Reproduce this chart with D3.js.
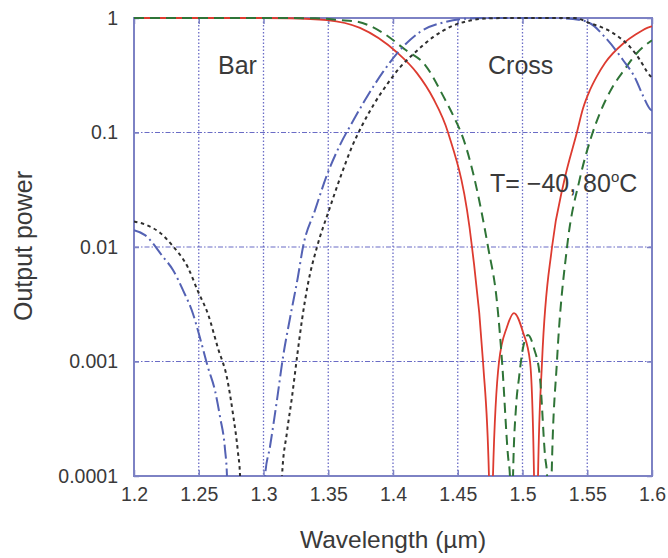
<!DOCTYPE html>
<html>
<head>
<meta charset="utf-8">
<script src="https://cdn.jsdelivr.net/npm/d3@7"></script>
<style>
  body { margin: 0; background: #fff; }
  svg { display: block; }
  text { font-family: "Liberation Sans", Arial, Helvetica, sans-serif; fill: #3a3a3a; }
</style>
</head>
<body>
<svg id="chart" width="668" height="558"></svg>
<script>
// wavelength (um), output power
const crossA = [
  [1.20, 1.0], [1.30, 1.0], [1.32, 0.995], [1.349, 0.96], [1.3745, 0.82], [1.4031, 0.5],
  [1.4185, 0.33], [1.4309, 0.2], [1.4425, 0.1], [1.461, 0.01], [1.4695, 0.001],
  [1.4741, 0.0001], [1.4757, 1e-6], [1.4772, 0.0001], [1.4819, 0.001], [1.488, 0.002],
  [1.4934, 0.00265], [1.5004, 0.0018], [1.5058, 0.001], [1.5089, 0.0001], [1.5104, 1e-6],
  [1.512, 0.0001], [1.5151, 0.001], [1.5228, 0.01], [1.532, 0.037], [1.542, 0.1],
  [1.5467, 0.162], [1.5521, 0.235], [1.5575, 0.311], [1.5637, 0.405], [1.5776, 0.596],
  [1.5876, 0.72], [1.5985, 0.838], [1.60, 0.845]
];
const crossB = [
  [1.20, 1.0], [1.30, 1.0], [1.34, 0.995], [1.359, 0.96], [1.3722, 0.93], [1.3923, 0.74],
  [1.4093, 0.53], [1.4247, 0.39], [1.4386, 0.21], [1.4494, 0.12], [1.4525, 0.1],
  [1.4734, 0.01], [1.4803, 0.0033], [1.4842, 0.001], [1.4888, 0.00015], [1.4903, 0.0001],
  [1.4911, 1e-6], [1.4927, 0.0001], [1.495, 0.0004], [1.4973, 0.00072], [1.5003, 0.0013],
  [1.5042, 0.0017], [1.5089, 0.0013], [1.5135, 0.00072], [1.5174, 0.00015], [1.519, 0.0001],
  [1.5205, 1e-6], [1.5225, 0.0001], [1.5266, 0.001], [1.5344, 0.01], [1.5444, 0.04],
  [1.5529, 0.09], [1.5598, 0.148], [1.5691, 0.245], [1.5784, 0.35], [1.5884, 0.495], [1.60, 0.64]
];
const barA = [
  [1.20, 0.014], [1.2085, 0.0127], [1.2224, 0.0082], [1.2301, 0.0063], [1.2378, 0.0042],
  [1.2456, 0.0026], [1.251, 0.0016], [1.2571, 0.00089], [1.2625, 0.00056], [1.2664, 0.00033],
  [1.2703, 0.00017], [1.2718, 0.0001], [1.2734, 1e-6], [1.2995, 1e-6], [1.3012, 0.0001],
  [1.305, 0.00018], [1.3104, 0.00046], [1.3151, 0.0011], [1.3205, 0.0024], [1.3266, 0.0055],
  [1.3305, 0.01], [1.3398, 0.021], [1.349, 0.0425], [1.3591, 0.078], [1.3691, 0.126],
  [1.3784, 0.192], [1.3923, 0.338], [1.4054, 0.525], [1.4208, 0.755], [1.4402, 0.923],
  [1.4595, 0.99], [1.48, 1.0], [1.52, 1.0], [1.539, 0.98], [1.5521, 0.9], [1.5637, 0.68],
  [1.5776, 0.43], [1.5869, 0.30], [1.593, 0.21], [1.5985, 0.16], [1.60, 0.155]
];
const barB = [
  [1.20, 0.0167], [1.21, 0.0155], [1.2201, 0.0133], [1.2293, 0.0104], [1.2417, 0.0066],
  [1.2494, 0.0041], [1.2571, 0.0026], [1.2649, 0.0013], [1.2718, 0.00072], [1.2764, 0.00035],
  [1.2803, 0.00016], [1.2819, 0.0001], [1.283, 1e-6], [1.3131, 1e-6], [1.3143, 0.0001],
  [1.3181, 0.00024], [1.322, 0.00049], [1.3259, 0.0011], [1.3297, 0.0023], [1.3344, 0.0048],
  [1.3413, 0.01], [1.3506, 0.021], [1.3598, 0.042], [1.3683, 0.075], [1.3761, 0.115],
  [1.3853, 0.177], [1.3961, 0.27], [1.4054, 0.37], [1.417, 0.5], [1.4309, 0.68],
  [1.4456, 0.85], [1.4595, 0.95], [1.471, 0.99], [1.49, 1.0], [1.54, 1.0], [1.5521, 0.9],
  [1.5653, 0.79], [1.5753, 0.67], [1.583, 0.56], [1.5907, 0.43], [1.5961, 0.34], [1.60, 0.30]
];

const xTicks = [1.2, 1.25, 1.3, 1.35, 1.4, 1.45, 1.5, 1.55, 1.6];
const xTickLabels = ["1.2", "1.25", "1.3", "1.35", "1.4", "1.45", "1.5", "1.55", "1.6"];
const yTicks = [1, 0.1, 0.01, 0.001, 0.0001];
const yTickLabels = ["1", "0.1", "0.01", "0.001", "0.0001"];

var svg = d3.select("#chart");
var plotL = 134, plotR = 652, plotT = 18, plotB = 476;

var x = d3.scaleLinear().domain([1.2, 1.6]).range([plotL, plotR]);
var y = d3.scaleLog().domain([0.0001, 1]).range([plotB, plotT]);

var gridColor = "#6a6cc6";
var frameColor = "#7d82c4";

// grid
svg.append("g")
  .selectAll("line")
  .data(xTicks.slice(1, -1))
  .enter()
  .append("line")
  .attr("x1", d => x(d)).attr("x2", d => x(d))
  .attr("y1", plotT).attr("y2", plotB)
  .attr("stroke", gridColor)
  .attr("stroke-width", 1.3)
  .attr("stroke-dasharray", "1.5,2");

svg.append("g")
  .selectAll("line")
  .data(yTicks.slice(1, -1))
  .enter()
  .append("line")
  .attr("x1", plotL).attr("x2", plotR)
  .attr("y1", d => y(d)).attr("y2", d => y(d))
  .attr("stroke", gridColor)
  .attr("stroke-width", 1.2)
  .attr("stroke-dasharray", "5,2,1.5,2");

// axes
var xAxis = svg.append("g")
  .attr("transform", "translate(0," + plotB + ")")
  .call(d3.axisBottom(x).tickValues(xTicks)
    .tickFormat((d, i) => xTickLabels[i])
    .tickSizeInner(-6).tickSizeOuter(0).tickPadding(11));
var yAxis = svg.append("g")
  .attr("transform", "translate(" + plotL + ",0)")
  .call(d3.axisLeft(y).tickValues(yTicks)
    .tickFormat((d, i) => yTickLabels[i])
    .tickSizeInner(-5).tickSizeOuter(0).tickPadding(16));
svg.append("g")
  .attr("transform", "translate(" + plotR + ",0)")
  .call(d3.axisRight(y).tickValues(yTicks).tickFormat("")
    .tickSizeInner(-5).tickSizeOuter(0));
svg.append("g")
  .attr("transform", "translate(0," + plotT + ")")
  .call(d3.axisTop(x).tickValues(xTicks).tickFormat("")
    .tickSizeInner(-6).tickSizeOuter(0));

svg.selectAll(".domain").remove();
svg.selectAll(".tick line").attr("stroke", frameColor).attr("stroke-width", 1.5);
xAxis.selectAll("text").style("font-size", "19.5px").attr("fill", "#3a3a3a");
yAxis.selectAll("text").style("font-size", "19.5px").attr("fill", "#3a3a3a");

// frame
svg.append("rect")
  .attr("x", plotL).attr("y", plotT)
  .attr("width", plotR - plotL).attr("height", plotB - plotT)
  .attr("fill", "none")
  .attr("stroke", frameColor)
  .attr("stroke-width", 2);

// curves
svg.append("clipPath").attr("id", "plot-clip")
  .append("rect")
  .attr("x", plotL).attr("y", plotT - 3)
  .attr("width", plotR - plotL).attr("height", plotB - plotT + 3);

var line = d3.line()
  .x(d => x(d[0]))
  .y(d => y(d[1]))
  .curve(d3.curveMonotoneX);

var series = [
  { data: crossA, color: "#dd3b30", width: 1.8, dash: null },
  { data: crossB, color: "#2f7437", width: 2, dash: "10,6" },
  { data: barA, color: "#5462b4", width: 2, dash: "14,4,2,4" },
  { data: barB, color: "#2e2e2e", width: 2, dash: "3.5,3.5" }
];

var curves = svg.append("g").attr("clip-path", "url(#plot-clip)");
series.forEach(function(s) {
  curves.append("path")
    .datum(s.data)
    .attr("d", line)
    .attr("fill", "none")
    .attr("stroke", s.color)
    .attr("stroke-width", s.width)
    .attr("stroke-dasharray", s.dash);
});

// labels
svg.append("text").attr("x", 218).attr("y", 74)
  .style("font-size", "25px").text("Bar");
svg.append("text").attr("x", 488).attr("y", 74)
  .style("font-size", "25px").text("Cross");
var tLabel = svg.append("text").attr("x", 490).attr("y", 192)
  .style("font-size", "25px");
tLabel.append("tspan").text("T= \u221240, 80");
tLabel.append("tspan").attr("dy", -10).style("font-size", "15px").text("o");
tLabel.append("tspan").attr("dy", 10).text("C");

svg.append("text")
  .attr("x", (plotL + plotR) / 2).attr("y", 548)
  .attr("text-anchor", "middle")
  .style("font-size", "24.5px")
  .text("Wavelength (\u00b5m)");

svg.append("text")
  .attr("transform", "translate(32," + 246 + ") rotate(-90)")
  .attr("text-anchor", "middle")
  .style("font-size", "25px")
  .text("Output power");
</script>
</body>
</html>
